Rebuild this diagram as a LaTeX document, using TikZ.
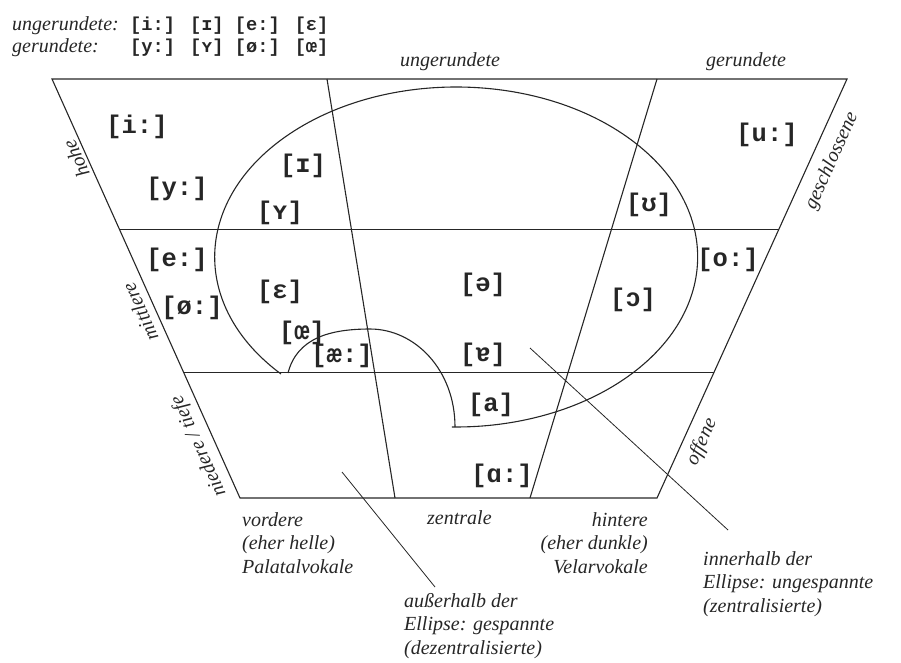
\documentclass[tikz,border=0pt]{standalone}
\usepackage{fontspec}
\setmainfont{Liberation Serif}
\newfontfamily\phonfont{Liberation Mono}
\usetikzlibrary{calc}
\definecolor{ink}{HTML}{262626}

\begin{document}
\begin{tikzpicture}[
  x=1pt, y=-1pt,
  chart/.style={draw=ink, line width=1.1pt},
  pointer/.style={draw=ink, line width=0.8pt},
  vowel/.style={font=\phonfont\bfseries\fontsize{25.5}{28}\selectfont, text=ink, inner sep=0pt},
  legendipa/.style={font=\phonfont\bfseries\fontsize{18.7}{21}\selectfont, text=ink, anchor=base west, inner sep=0pt},
  legendname/.style={font=\itshape\fontsize{20}{22}\selectfont, text=ink, anchor=base west, inner sep=0pt},
  caption/.style={font=\itshape\fontsize{20}{23.5}\selectfont, text=ink, inner sep=0pt},
  sidelabel/.style={font=\itshape\fontsize{20}{22}\selectfont, text=ink, inner sep=0pt}
]
\useasboundingbox (0,0) rectangle (901,662);

% legend
\node[legendname] (unrlabel) at (12,30) {ungerundete:};
\node[legendipa] (unrlist) at (130,30) {[i:] [ɪ] [e:] [ɛ]};
\node[legendname] (rlabel) at (12,52) {gerundete:};
\node[legendipa] (rlist) at (130,52) {[y:] [ʏ] [ø:] [œ]};

% trapezoid
\coordinate (tl) at (52,79);
\coordinate (tr) at (847,79);
\coordinate (br) at (657,498);
\coordinate (bl) at (240,498);
\coordinate (ml) at ($(tl)!0.36!(bl)$);
\coordinate (mr) at ($(tr)!0.36!(br)$);
\coordinate (ll) at ($(tl)!0.7!(bl)$);
\coordinate (lr) at ($(tr)!0.7!(br)$);
\coordinate (ftop) at (327,79);
\coordinate (fbot) at (395,498);
\coordinate (btop) at (657,79);
\coordinate (bbot) at (530,498);

\draw[chart] (tl) -- (tr) -- (br) -- (bl) -- cycle;
\draw[chart] (ml) -- (mr);
\draw[chart] (ll) -- (lr);
\draw[chart] (ftop) -- (fbot);
\draw[chart] (btop) -- (bbot);

% ellipse
\draw[chart] (281,374) arc[start angle=136.5, end angle=451, x radius=241.5, y radius=170];
\draw[chart] (288,373) .. controls (297,338) and (330,329) .. (370,329)
  .. controls (415,329) and (455,370) .. (455,427);

% vowels
\node[vowel] (ilong) at (137,127) {[i:]};
\node[vowel] (ylong) at (177,189) {[y:]};
\node[vowel] (ishort) at (303,166) {[ɪ]};
\node[vowel] (yshort) at (280,213) {[ʏ]};
\node[vowel] (elong) at (177,260) {[e:]};
\node[vowel] (eshort) at (280,292) {[ɛ]};
\node[vowel] (oelong) at (192,308) {[ø:]};
\node[vowel] (oeshort) at (302,333) {[œ]};
\node[vowel] (aelong) at (342,356) {[æ:]};
\node[vowel] (schwa) at (483,285) {[ə]};
\node[vowel] (aschwa) at (483,355) {[ɐ]};
\node[vowel] (ashort) at (491,405) {[a]};
\node[vowel] (backa) at (502,476) {[ɑ:]};
\node[vowel] (ushort) at (649,205) {[ʊ]};
\node[vowel] (oshort) at (633,300) {[ɔ]};
\node[vowel] (olong) at (728,260) {[o:]};
\node[vowel] (ulong) at (767,135) {[u:]};

% side labels
\node[caption, anchor=base] (unrtop) at (450,66) {ungerundete};
\node[caption, anchor=base] (rtop) at (746,66) {gerundete};
\node[sidelabel, rotate=114.2] (high) at (76,159) {hohe};
\node[sidelabel, rotate=114.2] (mid) at (140,312) {mittlere};
\node[sidelabel, rotate=114.2] (low) at (199,446) {niedere / tiefe};
\node[sidelabel, rotate=65.7] (closed) at (832,161) {geschlossene};
\node[sidelabel, rotate=65.7] (open) at (702,442) {offene};

% bottom captions
\node[caption, align=left, anchor=north west] (front) at (242,512) {vordere\\(eher helle)\\Palatalvokale};
\node[caption, anchor=base west] (central) at (427,524) {zentrale};
\node[caption, align=right, anchor=north east] (back) at (648,512) {hintere\\(eher dunkle)\\Velarvokale};
\node[caption, align=left, anchor=north west] (outside) at (404,593) {außerhalb der\\Ellipse: gespannte\\(dezentralisierte)};
\node[caption, align=left, anchor=north west] (inside) at (703,551) {innerhalb der\\Ellipse: ungespannte\\(zentralisierte)};

% pointers
\coordinate (outpt) at (342,472);
\coordinate (inpt) at (530,348);
\draw[pointer] (outpt) -- ([xshift=31pt,yshift=6pt]outside.north west);
\draw[pointer] (inpt) -- ([xshift=25pt,yshift=21pt]inside.north west);
\end{tikzpicture}
\end{document}
